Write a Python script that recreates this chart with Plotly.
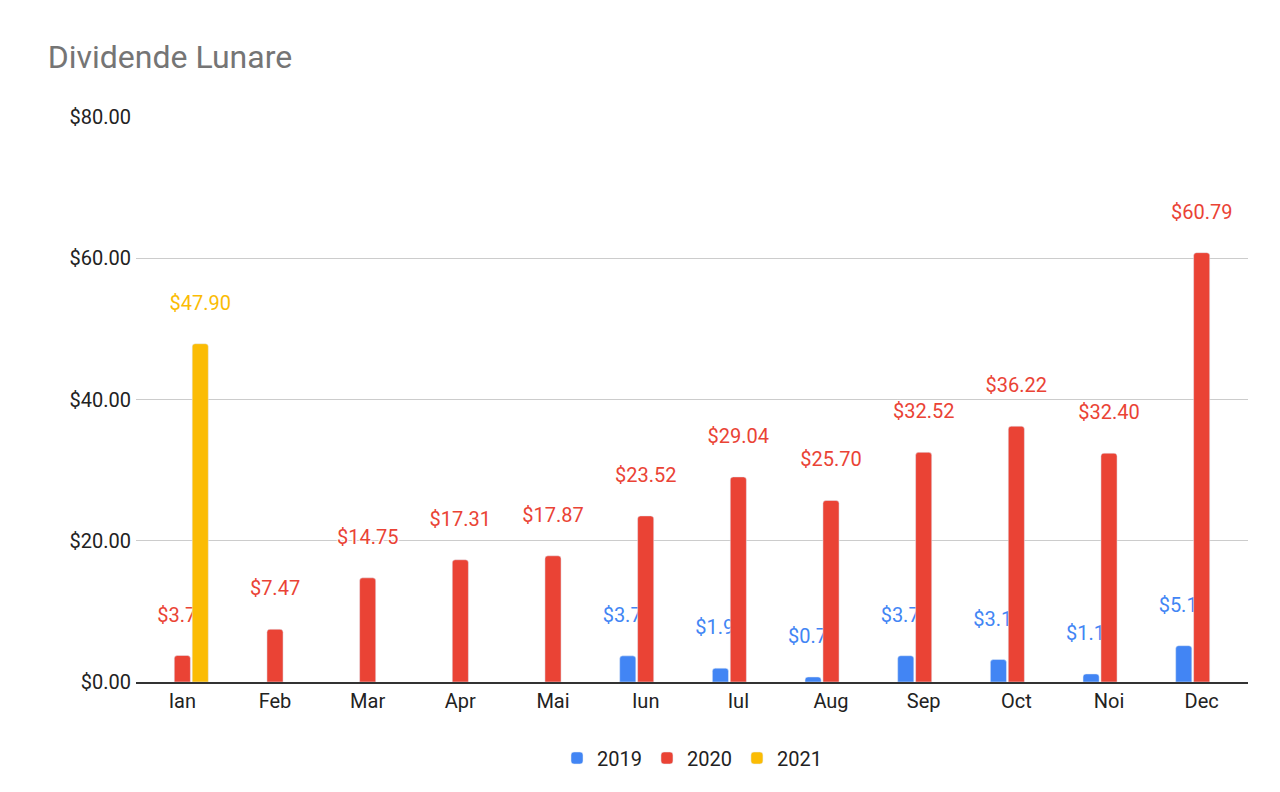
import plotly.graph_objects as go

months = ["Ian","Feb","Mar","Apr","Mai","Iun","Iul","Aug","Sep","Oct","Noi","Dec"]
v2019 = [None,None,None,None,None,3.70,1.96,0.71,3.72,3.18,1.14,5.14]
v2020 = [3.75,7.47,14.75,17.31,17.87,23.52,29.04,25.70,32.52,36.22,32.40,60.79]
v2021 = [47.90,None,None,None,None,None,None,None,None,None,None,None]

series = [("2019", v2019, "#4285f4"), ("2020", v2020, "#ea4335"), ("2021", v2021, "#fbbc04")]
fig = go.Figure()
for name, vals, col in series:
    fig.add_trace(go.Bar(
        x=months, y=vals, name=name, marker=dict(color=col, cornerradius=3),
        text=[None if v is None else f"${v:.2f}<br> " for v in vals],
        textposition="outside", cliponaxis=False, constraintext="none",
        textfont=dict(color=col, size=20, family="Roboto",
                      shadow="1px 1px 1px white, -1px -1px 1px white, 1px -1px 1px white, -1px 1px 1px white"),
    ))
fig.update_layout(
    width=1280, height=792, barmode="group", bargap=0.42, bargroupgap=0.1,
    paper_bgcolor="white", plot_bgcolor="white",
    font=dict(family="Roboto", size=20, color="#222"),
    title=dict(text="Dividende Lunare", x=0.031, y=0.938, xanchor="left", yanchor="middle",
               font=dict(size=32, color="#757575")),
    margin=dict(l=128, r=40, t=109, b=118, autoexpand=False),
    yaxis=dict(range=[0, 80], dtick=20, tickformat="$.2f", gridcolor="#cccccc",
               zeroline=False, ticks="", ticklabelstandoff=4),
    xaxis=dict(showline=True, linecolor="#333", linewidth=1.5, ticks=""),
    legend=dict(orientation="h", x=0.5, xanchor="center", y=-0.1, yanchor="top",
                font=dict(size=20)),
)
fig.write_html("out.html")
